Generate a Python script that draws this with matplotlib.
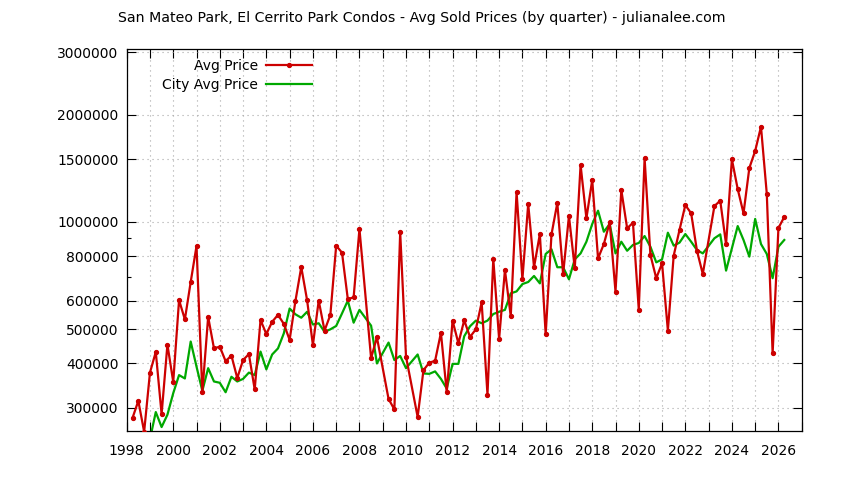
import matplotlib
matplotlib.use("Agg")
import matplotlib.pyplot as plt
from matplotlib.ticker import FixedLocator, MultipleLocator, FuncFormatter, NullFormatter
import numpy as np

# quarters with data (2008.25, 2009.0, 2010.25, 2023.0 have no sales)
years = [
    1998.25, 1998.5, 1998.75,
    1999.0, 1999.25, 1999.5, 1999.75,
    2000.0, 2000.25, 2000.5, 2000.75,
    2001.0, 2001.25, 2001.5, 2001.75,
    2002.0, 2002.25, 2002.5, 2002.75,
    2003.0, 2003.25, 2003.5, 2003.75,
    2004.0, 2004.25, 2004.5, 2004.75,
    2005.0, 2005.25, 2005.5, 2005.75,
    2006.0, 2006.25, 2006.5, 2006.75,
    2007.0, 2007.25, 2007.5, 2007.75,
    2008.0, 2008.5, 2008.75,
    2009.25, 2009.5, 2009.75,
    2010.0, 2010.5, 2010.75,
    2011.0, 2011.25, 2011.5, 2011.75,
    2012.0, 2012.25, 2012.5, 2012.75,
    2013.0, 2013.25, 2013.5, 2013.75,
    2014.0, 2014.25, 2014.5, 2014.75,
    2015.0, 2015.25, 2015.5, 2015.75,
    2016.0, 2016.25, 2016.5, 2016.75,
    2017.0, 2017.25, 2017.5, 2017.75,
    2018.0, 2018.25, 2018.5, 2018.75,
    2019.0, 2019.25, 2019.5, 2019.75,
    2020.0, 2020.25, 2020.5, 2020.75,
    2021.0, 2021.25, 2021.5, 2021.75,
    2022.0, 2022.25, 2022.5, 2022.75,
    2023.25, 2023.5, 2023.75,
    2024.0, 2024.25, 2024.5, 2024.75,
    2025.0, 2025.25, 2025.5, 2025.75,
    2026.0, 2026.25,
]

avg_price = [
    281000, 314000, 257000,
    377000, 431000, 288000, 452000,
    355000, 603000, 532000, 678000,
    856000, 332000, 541000, 441000,
    446000, 406000, 421000, 364000,
    409000, 425000, 338000, 530000,
    484000, 524000, 548000, 517000,
    466000, 600000, 747000, 603000,
    451000, 601000, 495000, 548000,
    858000, 820000, 607000, 614000,
    956000, 414000, 474000,
    318000, 297000, 936000,
    418000, 283000, 383000,
    402000, 407000, 488000, 332000,
    528000, 456000, 529000, 475000,
    499000, 594000, 327000, 787000,
    469000, 733000, 543000, 1214000,
    690000, 1124000, 746000, 925000,
    483000, 923000, 1131000, 714000,
    1040000, 741000, 1447000, 1024000,
    1313000, 790000, 867000, 998000,
    637000, 1230000, 960000, 995000,
    567000, 1511000, 808000, 695000,
    765000, 495000, 804000, 950000,
    1116000, 1058000, 830000, 714000,
    1109000, 1148000, 866000,
    1501000, 1238000, 1058000, 1419000,
    1584000, 1854000, 1199000, 427000,
    962000, 1033000,
]

city_avg = [
    np.nan, np.nan, np.nan,
    245000, 292000, 265000, 287000,
    330000, 371000, 363000, 461000,
    392000, 335000, 388000, 356000,
    353000, 332000, 367000, 356000,
    362000, 377000, 371000, 432000,
    385000, 424000, 441000, 486000,
    571000, 550000, 538000, 559000,
    515000, 519000, 491000, 499000,
    510000, 553000, 601000, 521000,
    566000, 511000, 400000,
    458000, 409000, 420000,
    388000, 424000, 375000,
    374000, 380000, 362000, 340000,
    399000, 399000, 477000, 509000,
    528000, 519000, 528000, 551000,
    559000, 566000, 630000, 638000,
    669000, 678000, 705000, 672000,
    813000, 838000, 746000, 746000,
    690000, 785000, 816000, 880000,
    987000, 1076000, 939000, 987000,
    816000, 880000, 830000, 862000,
    873000, 913000, 852000, 770000,
    785000, 933000, 858000, 875000,
    925000, 880000, 834000, 816000,
    900000, 923000, 730000,
    843000, 974000, 890000, 799000,
    1020000, 867000, 813000, 695000,
    852000, 890000,
]

y_ticks = [300000, 400000, 500000, 600000, 800000, 1000000, 1500000, 2000000, 3000000]
y_minor = [700000, 900000]

plt.rcParams['font.family'] = ['DejaVu Sans']
plt.rcParams['font.size'] = 10

fig = plt.figure(figsize=(8.44, 4.8), dpi=100)
ax = fig.add_axes([0.1501, 0.1027, 0.7998, 0.7952])

ax.plot(years, avg_price, color='#cc0000', lw=1.6, marker='o', ms=2.8,
        label='Avg Price', zorder=3)
ax.plot(years, city_avg, color='#00a800', lw=1.6, label='City Avg Price', zorder=2)

ax.set_yscale('log')
ax.set_ylim(258800, 3066000)
ax.set_xlim(1998, 2027)

ax.yaxis.set_major_locator(FixedLocator(y_ticks))
ax.yaxis.set_major_formatter(FuncFormatter(lambda v, p: '%d' % v))
ax.yaxis.set_minor_locator(FixedLocator(y_minor))
ax.yaxis.set_minor_formatter(NullFormatter())

ax.xaxis.set_major_locator(MultipleLocator(2))
ax.xaxis.set_minor_locator(MultipleLocator(1))
ax.xaxis.set_major_formatter(FuncFormatter(lambda v, p: '%d' % v))

ax.tick_params(which='both', direction='in', top=True, right=True, width=0.8)
ax.tick_params(axis='x', which='both', length=6.5, pad=9.5)
ax.tick_params(axis='y', which='major', length=6.5, pad=6)
ax.tick_params(axis='y', which='minor', length=3.2)

ax.grid(True, which='major', axis='y', color='#a8a8a8', lw=0.8, ls=(0, (1, 3.5)))
ax.grid(True, which='both', axis='x', color='#a8a8a8', lw=0.8, ls=(0, (1, 3.5)))
ax.set_axisbelow(True)
for s in ax.spines.values():
    s.set_linewidth(0.9)

leg = ax.legend(loc='upper left', bbox_to_anchor=(0.038, 1.0), frameon=False,
                markerfirst=False, handlelength=3.3, handletextpad=0.6,
                labelspacing=0.35, borderaxespad=0.3)

fig.text(0.5, 1 - 18 / 480, 'San Mateo Park, El Cerrito Park Condos - Avg Sold Prices (by quarter) - julianalee.com',
         ha='center', va='center', fontsize=10.2)

fig.savefig('out.png', dpi=100)
